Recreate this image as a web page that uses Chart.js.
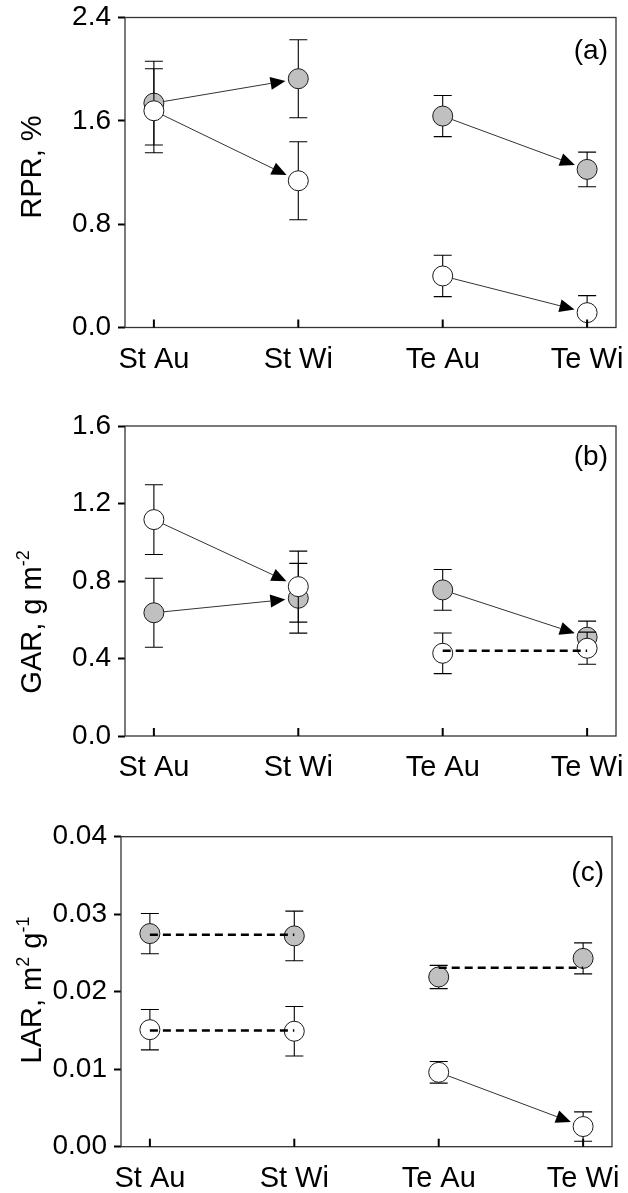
<!DOCTYPE html>
<html>
<head>
<meta charset="utf-8">
<script src="https://cdn.jsdelivr.net/npm/chart.js@4.4.0/dist/chart.umd.min.js"></script>
<style>
html, body { margin: 0; padding: 0; background: #fff; }
.panel { position: relative; width: 628px; }
canvas { display: block; }
</style>
</head>
<body>
<div class="panel" style="height:390px"><canvas id="rprChart"></canvas></div>
<div class="panel" style="height:390px"><canvas id="garChart"></canvas></div>
<div class="panel" style="height:413px"><canvas id="larChart"></canvas></div>
<script>
const seasons = ['St Au', 'St Wi', 'Te Au', 'Te Wi'];

// RPR, %
const rprFilled = [1.737, 1.926, 1.637, 1.224];
const rprFilledErr = [0.324, 0.302, 0.159, 0.134];
const rprOpen = [1.678, 1.136, 0.399, 0.115];
const rprOpenErr = [0.325, 0.302, 0.160, 0.132];
const rprTicks = [0, 0.8, 1.6, 2.4];

// GAR, g m-2
const garFilled = [0.636, 0.711, 0.754, 0.510];
const garFilledErr = [0.178, 0.180, 0.105, 0.083];
const garOpen = [1.117, 0.771, 0.427, 0.453];
const garOpenErr = [0.180, 0.183, 0.105, 0.083];
const garTicks = [0, 0.4, 0.8, 1.2, 1.6];

// LAR, m2 g-1
const larFilled = [0.0275, 0.0272, 0.0219, 0.0243];
const larFilledErr = [0.0026, 0.0032, 0.0015, 0.0020];
const larOpen = [0.0151, 0.0149, 0.0096, 0.0026];
const larOpenErr = [0.0026, 0.0032, 0.0014, 0.0019];
const larTicks = [0, 0.01, 0.02, 0.03, 0.04];

// season-to-season links: [series, from, to, kind]
// arrow = significant change, dash = no significant change (drawn at the mean)
const rprLinks = [[0, 0, 1, 'arrow'], [1, 0, 1, 'arrow'], [0, 2, 3, 'arrow'], [1, 2, 3, 'arrow']];
const garLinks = [[1, 0, 1, 'arrow'], [0, 0, 1, 'arrow'], [0, 2, 3, 'arrow'], [1, 2, 3, 'dash']];
const larLinks = [[0, 0, 1, 'dash'], [1, 0, 1, 'dash'], [0, 2, 3, 'dash'], [1, 2, 3, 'arrow']];

Chart.defaults.font.family = '"Liberation Sans", Arial, sans-serif';
Chart.defaults.color = '#000';

function drawArrow(ctx, x1, y1, x2, y2) {
    const dx = x2 - x1, dy = y2 - y1;
    const len = Math.hypot(dx, dy);
    const ux = dx / len, uy = dy / len;
    const sx = x1 + ux * 10, sy = y1 + uy * 10;
    const tx = x2 - ux * 13, ty = y2 - uy * 13;
    const bx = tx - ux * 15, by = ty - uy * 15;
    ctx.strokeStyle = '#333';
    ctx.lineWidth = 1;
    ctx.beginPath();
    ctx.moveTo(sx, sy);
    ctx.lineTo(bx, by);
    ctx.stroke();
    ctx.fillStyle = '#000';
    ctx.beginPath();
    ctx.moveTo(tx, ty);
    ctx.lineTo(bx - uy * 6.5, by + ux * 6.5);
    ctx.lineTo(bx + uy * 6.5, by - ux * 6.5);
    ctx.closePath();
    ctx.fill();
}

// rotated axis title with superscript pieces
function drawTitle(ctx, parts, x, y) {
    const big = '29px "Liberation Sans", Arial, sans-serif';
    const small = '18px "Liberation Sans", Arial, sans-serif';
    let total = 0;
    parts.forEach(p => { ctx.font = p.sup ? small : big; total += ctx.measureText(p.t).width; });
    ctx.save();
    ctx.translate(x, y);
    ctx.rotate(-Math.PI / 2);
    ctx.fillStyle = '#000';
    ctx.textBaseline = 'alphabetic';
    ctx.textAlign = 'left';
    let pos = -total / 2;
    parts.forEach(p => {
        ctx.font = p.sup ? small : big;
        ctx.fillText(p.t, pos, p.sup ? -12 : 0);
        pos += ctx.measureText(p.t).width;
    });
    ctx.restore();
}

const panelDecor = {
    id: 'panelDecor',
    beforeDatasetDraw(chart, args) {
        const ds = chart.data.datasets[args.index];
        const yScale = chart.scales.y;
        const area = chart.chartArea;
        const ctx = chart.ctx;
        ctx.save();
        ctx.beginPath();
        ctx.rect(area.left, area.top, area.right - area.left, area.bottom - area.top);
        ctx.clip();
        ctx.strokeStyle = '#000';
        ctx.lineWidth = 1.1;
        args.meta.data.forEach((pt, i) => {
            const v = ds.data[i].y, e = ds.errors[i];
            const yt = yScale.getPixelForValue(v + e);
            const yb = yScale.getPixelForValue(v - e);
            ctx.beginPath();
            ctx.moveTo(pt.x, yt); ctx.lineTo(pt.x, yb);
            ctx.moveTo(pt.x - 9, yt); ctx.lineTo(pt.x + 9, yt);
            ctx.moveTo(pt.x - 9, yb); ctx.lineTo(pt.x + 9, yb);
            ctx.stroke();
        });
        ctx.restore();
    },
    afterDatasetsDraw(chart, args, opts) {
        const ctx = chart.ctx;
        const area = chart.chartArea;
        const xScale = chart.scales.x, yScale = chart.scales.y;
        ctx.save();

        opts.links.forEach(([s, a, b, kind]) => {
            const pts = chart.getDatasetMeta(s).data;
            const vals = chart.data.datasets[s].data;
            if (kind === 'arrow') {
                drawArrow(ctx, pts[a].x, pts[a].y, pts[b].x, pts[b].y);
            } else {
                const yp = yScale.getPixelForValue((vals[a].y + vals[b].y) / 2);
                ctx.strokeStyle = '#000';
                ctx.lineWidth = 2.5;
                ctx.setLineDash([8, 5]);
                ctx.beginPath();
                ctx.moveTo(pts[a].x, yp);
                ctx.lineTo(pts[b].x, yp);
                ctx.stroke();
                ctx.setLineDash([]);
            }
        });

        // frame
        ctx.strokeStyle = '#333';
        ctx.lineWidth = 1.3;
        ctx.strokeRect(area.left, area.top, area.right - area.left, area.bottom - area.top);

        // inward x ticks
        ctx.strokeStyle = '#000';
        ctx.lineWidth = 2;
        seasons.forEach((_, i) => {
            const xp = xScale.getPixelForValue(i + 1);
            ctx.beginPath();
            ctx.moveTo(xp, area.bottom);
            ctx.lineTo(xp, area.bottom - 8);
            ctx.stroke();
        });

        // panel letter
        ctx.fillStyle = '#000';
        ctx.font = '28px "Liberation Sans", Arial, sans-serif';
        ctx.textAlign = 'right';
        ctx.textBaseline = 'middle';
        ctx.fillText(opts.letter, area.right - 8, area.top + opts.letterDy);

        drawTitle(ctx, opts.title, 41, opts.titleY);
        ctx.restore();
    }
};

function makePanel(id, p) {
    const toPoints = vals => vals.map((v, i) => ({ x: i + 1, y: v }));
    return new Chart(document.getElementById(id), {
        type: 'scatter',
        data: {
            datasets: [
                {
                    data: toPoints(p.filled), errors: p.filledErr,
                    backgroundColor: '#c0c0c0', borderColor: '#1a1a1a', borderWidth: 1,
                    pointRadius: 10, pointHoverRadius: 10, order: 1
                },
                {
                    data: toPoints(p.open), errors: p.openErr,
                    backgroundColor: '#fff', borderColor: '#1a1a1a', borderWidth: 1,
                    pointRadius: 10, pointHoverRadius: 10, order: 0
                }
            ]
        },
        options: {
            responsive: true,
            maintainAspectRatio: false,
            animation: false,
            events: [],
            layout: { padding: { top: p.top, right: p.right, left: 0, bottom: 0 } },
            plugins: {
                legend: { display: false },
                tooltip: { enabled: false },
                panelDecor: { links: p.links, letter: p.letter, letterDy: p.letterDy, title: p.title, titleY: p.titleY }
            },
            scales: {
                x: {
                    type: 'linear', min: 0.8, max: 4.2,
                    afterBuildTicks: s => { s.ticks = seasons.map((_, i) => ({ value: i + 1 })); },
                    ticks: {
                        callback: v => seasons[Math.round(v) - 1],
                        font: { size: 29 }, color: '#000', padding: 15,
                        maxRotation: 0, autoSkip: false
                    },
                    grid: { display: false, drawTicks: false },
                    border: { display: false },
                    afterFit: s => { s.height = p.xHeight; s.paddingLeft = 0; s.paddingRight = 0; }
                },
                y: {
                    min: p.ticks[0], max: p.ticks[p.ticks.length - 1],
                    afterBuildTicks: s => { s.ticks = p.ticks.map(v => ({ value: v })); },
                    ticks: {
                        callback: v => Number(v).toFixed(p.decimals),
                        font: { size: 28 }, color: '#000', padding: 7
                    },
                    grid: { drawOnChartArea: false, drawTicks: true, tickLength: 7, tickColor: '#000', tickWidth: 2 },
                    border: { display: false },
                    afterFit: s => { s.width = p.yWidth; s.paddingTop = 0; s.paddingBottom = 0; }
                }
            }
        },
        plugins: [panelDecor]
    });
}

makePanel('rprChart', {
    filled: rprFilled, filledErr: rprFilledErr, open: rprOpen, openErr: rprOpenErr,
    ticks: rprTicks, decimals: 1, links: rprLinks,
    top: 17.5, right: 12, xHeight: 62.5, yWidth: 125,
    letter: '(a)', letterDy: 34, title: [{ t: 'RPR, %' }], titleY: 167
});

makePanel('garChart', {
    filled: garFilled, filledErr: garFilledErr, open: garOpen, openErr: garOpenErr,
    ticks: garTicks, decimals: 1, links: garLinks,
    top: 36, right: 12, xHeight: 44, yWidth: 125,
    letter: '(b)', letterDy: 31, title: [{ t: 'GAR, g m' }, { t: '-2', sup: true }], titleY: 232
});

makePanel('larChart', {
    filled: larFilled, filledErr: larFilledErr, open: larOpen, openErr: larOpenErr,
    ticks: larTicks, decimals: 2, links: larLinks,
    top: 56.7, right: 16, xHeight: 46.3, yWidth: 121,
    letter: '(c)', letterDy: 37, title: [{ t: 'LAR, m' }, { t: '2', sup: true }, { t: ' g' }, { t: '-1', sup: true }], titleY: 210
});
</script>
</body>
</html>
